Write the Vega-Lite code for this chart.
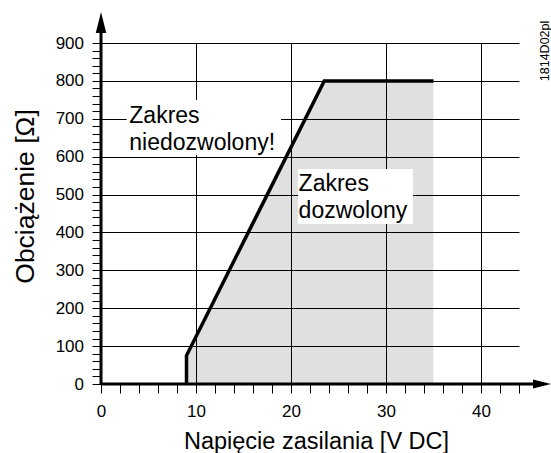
{
  "$schema": "https://vega.github.io/schema/vega-lite/v6.json",
  "width": 418,
  "height": 341,
  "autosize": {"type": "none"},
  "padding": {"left": 101, "top": 43, "right": 32, "bottom": 69},
  "background": "white",
  "config": {"view": {"stroke": null}, "font": "Liberation Sans"},
  "resolve": {"axis": {"x": "independent", "y": "independent"}},
  "datasets": {
    "boundary": [
      {"i": 0, "u": 9, "r": 0},
      {"i": 1, "u": 9, "r": 75},
      {"i": 2, "u": 23.5, "r": 800},
      {"i": 3, "u": 35, "r": 800}
    ]
  },
  "layer": [
    {
      "data": {"name": "boundary"},
      "transform": [{"filter": "datum.r > 0"}],
      "mark": {"type": "area", "fill": "black", "fillOpacity": 0.122, "opacity": 1},
      "encoding": {
        "x": {
          "field": "u", "type": "quantitative",
          "scale": {"domain": [0, 44], "nice": false, "zero": false},
          "axis": {
            "title": "Napięcie zasilania [V DC]",
            "values": [0,2,4,6,8,10,12,14,16,18,20,22,24,26,28,30,32,34,36,38,40,42,44],
            "domain": false,
            "ticks": true, "tickColor": "black", "tickWidth": 1, "tickSize": 9,
            "labelExpr": "datum.value % 10 === 0 ? datum.label : ''",
            "labelFontSize": 17, "labelColor": "black", "labelFont": "Liberation Sans",
            "labelPadding": 10.5, "labelFlush": false, "labelOverlap": false,
            "grid": true, "gridColor": "black", "gridWidth": 1,
            "gridOpacity": {"condition": {"test": "datum.value % 10 === 0 && datum.value > 0", "value": 1}, "value": 0},
            "titleFontSize": 23.5, "titleFont": "Liberation Sans", "titleFontWeight": "normal", "titleColor": "black",
            "titleX": 215, "titleY": 64, "titleBaseline": "alphabetic", "titleAlign": "center"
          }
        },
        "y": {
          "field": "r", "type": "quantitative",
          "scale": {"domain": [0, 900], "nice": false, "zero": false},
          "axis": {
            "title": "Obciążenie [Ω]",
            "values": [0,20,40,60,80,100,120,140,160,180,200,220,240,260,280,300,320,340,360,380,400,420,440,460,480,500,520,540,560,580,600,620,640,660,680,700,720,740,760,780,800,820,840,860,880,900],
            "domain": false,
            "ticks": true, "tickColor": "black", "tickWidth": 1, "tickSize": 9,
            "labelExpr": "datum.value % 100 === 0 ? datum.label : ''",
            "labelFontSize": 17, "labelColor": "black", "labelFont": "Liberation Sans",
            "labelPadding": 8.5, "labelFlush": false, "labelOverlap": false,
            "grid": true, "gridColor": "black", "gridWidth": 1,
            "gridOpacity": {"condition": {"test": "datum.value % 100 === 0 && datum.value > 0", "value": 1}, "value": 0},
            "titleFontSize": 26.5, "titleFont": "Liberation Sans", "titleFontWeight": "normal", "titleColor": "black",
            "titleAngle": 270, "titleX": -68, "titleY": 153, "titleBaseline": "alphabetic", "titleAlign": "center"
          }
        },
        "y2": {"datum": 0}
      }
    },
    {
      "data": {"values": [{}]},
      "mark": {"type": "rect", "fill": "white"},
      "encoding": {
        "x": {"datum": 2.7, "type": "quantitative", "axis": null},
        "x2": {"datum": 18.95},
        "y": {"datum": 604, "type": "quantitative", "axis": null},
        "y2": {"datum": 749.5}
      }
    },
    {
      "data": {"values": [{}]},
      "mark": {"type": "rect", "fill": "white"},
      "encoding": {
        "x": {"datum": 20.74, "type": "quantitative", "axis": null},
        "x2": {"datum": 32.84},
        "y": {"datum": 422.3, "type": "quantitative", "axis": null},
        "y2": {"datum": 567.4}
      }
    },
    {
      "data": {"name": "boundary"},
      "mark": {"type": "line", "stroke": "black", "strokeWidth": 3.5, "strokeJoin": "miter", "strokeCap": "butt"},
      "encoding": {
        "x": {"field": "u", "type": "quantitative", "axis": null},
        "y": {"field": "r", "type": "quantitative", "axis": null},
        "order": {"field": "i", "type": "quantitative"}
      }
    },
    {
      "data": {"values": [{}]},
      "mark": {"type": "text", "text": "Zakres\nniedozwolony!", "lineBreak": "\n", "lineHeight": 27, "align": "left", "baseline": "alphabetic", "fontSize": 23, "font": "Liberation Sans", "color": "black"},
      "encoding": {
        "x": {"datum": 2.98, "type": "quantitative", "axis": null},
        "y": {"datum": 690, "type": "quantitative", "axis": null}
      }
    },
    {
      "data": {"values": [{}]},
      "mark": {"type": "text", "text": "Zakres\ndozwolony", "lineBreak": "\n", "lineHeight": 27, "align": "left", "baseline": "alphabetic", "fontSize": 23, "font": "Liberation Sans", "color": "black"},
      "encoding": {
        "x": {"datum": 20.8, "type": "quantitative", "axis": null},
        "y": {"datum": 510, "type": "quantitative", "axis": null}
      }
    },
    {
      "data": {"values": [{}]},
      "mark": {"type": "rule", "stroke": "black", "strokeWidth": 3},
      "encoding": {
        "x": {"datum": 0, "type": "quantitative", "axis": null},
        "x2": {"datum": 46.42},
        "y": {"datum": 0, "type": "quantitative", "axis": null}
      }
    },
    {
      "data": {"values": [{}]},
      "mark": {"type": "rule", "stroke": "black", "strokeWidth": 3},
      "encoding": {
        "x": {"datum": 0, "type": "quantitative", "axis": null},
        "y": {"datum": 0, "type": "quantitative", "axis": null},
        "y2": {"datum": 954}
      }
    },
    {
      "data": {"values": [{}]},
      "mark": {"type": "point", "shape": "M0,-1L0.5,1L-0.5,1Z", "size": 441, "filled": true, "fill": "black", "opacity": 1},
      "encoding": {
        "x": {"datum": 0, "type": "quantitative", "axis": null},
        "y": {"datum": 954, "type": "quantitative", "axis": null}
      }
    },
    {
      "data": {"values": [{}]},
      "mark": {"type": "point", "shape": "M1,0L-1,-0.5L-1,0.5Z", "size": 324, "filled": true, "fill": "black", "opacity": 1},
      "encoding": {
        "x": {"datum": 46.42, "type": "quantitative", "axis": null},
        "y": {"datum": 0, "type": "quantitative", "axis": null}
      }
    },
    {
      "data": {"values": [{}]},
      "mark": {"type": "text", "text": "1814D02pl", "angle": 270, "align": "center", "baseline": "alphabetic", "fontSize": 12.5, "font": "Liberation Sans", "color": "black"},
      "encoding": {
        "x": {"datum": 47.16, "type": "quantitative", "axis": null},
        "y": {"datum": 879, "type": "quantitative", "axis": null}
      }
    }
  ]
}
